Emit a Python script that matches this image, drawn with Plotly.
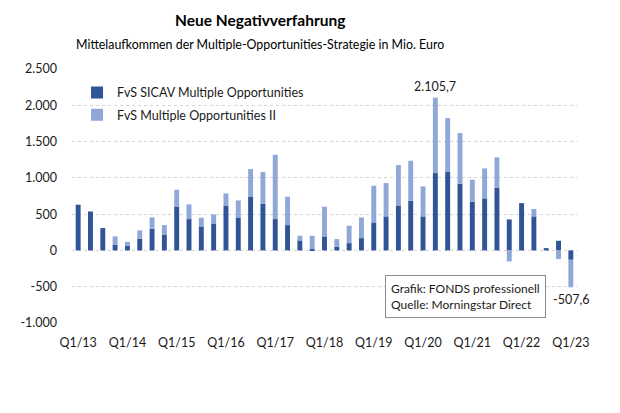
import plotly.graph_objects as go

quarters = [
    "Q1/13", "Q2/13", "Q3/13", "Q4/13",
    "Q1/14", "Q2/14", "Q3/14", "Q4/14",
    "Q1/15", "Q2/15", "Q3/15", "Q4/15",
    "Q1/16", "Q2/16", "Q3/16", "Q4/16",
    "Q1/17", "Q2/17", "Q3/17", "Q4/17",
    "Q1/18", "Q2/18", "Q3/18", "Q4/18",
    "Q1/19", "Q2/19", "Q3/19", "Q4/19",
    "Q1/20", "Q2/20", "Q3/20", "Q4/20",
    "Q1/21", "Q2/21", "Q3/21", "Q4/21",
    "Q1/22", "Q2/22", "Q3/22", "Q4/22",
    "Q1/23",
]

sicav = [630, 537, 308, 78, 64, 161, 299, 220, 606, 432, 331, 372, 620, 455, 744, 643,
         432, 349, 138, 18, 193, 51, 101, 170, 386, 469, 620, 684, 469, 1066, 1080, 919,
         671, 717, 864, 427, 652, 469, 32, 133, -129]

fund_ii = [0, 0, 0, 115, 55, 115, 156, 129, 230, 202, 119, 124, 166, 234, 377, 436,
           886, 391, 64, 184, 409, 105, 239, 285, 505, 459, 556, 552, 413, 1039.7, 744, 698,
           303, 413, 418, -152, 0, 101, 0, -119, -378.6]

x_tick_labels = ["Q1/13", "Q1/14", "Q1/15", "Q1/16", "Q1/17", "Q1/18",
                 "Q1/19", "Q1/20", "Q1/21", "Q1/22", "Q1/23"]

y_tick_vals = [-1000, -500, 0, 500, 1000, 1500, 2000, 2500]
y_tick_text = ["-1.000", "-500", "0", "500", "1.000", "1.500", "2.000", "2.500"]

series_names = ["FvS SICAV Multiple Opportunities", "FvS Multiple Opportunities II"]
max_label = "2.105,7"
min_label = "-507,6"

DARK = "#2F5597"
LIGHT = "#8FA8D8"
FONT = "Lato"
TXT = "#1a1a1a"

fig = go.Figure()
fig.add_trace(go.Bar(x=quarters, y=sicav, name=series_names[0], marker_color=DARK,
                     marker_line_width=0, legendgroup="a"))
fig.add_trace(go.Bar(x=quarters, y=fund_ii, name=series_names[1], marker_color=LIGHT,
                     marker_line_width=0, legendgroup="b"))

fig.update_layout(
    width=620, height=413,
    margin=dict(l=64, r=51, t=61, b=98),
    barmode="relative",
    bargap=0.6,
    paper_bgcolor="white",
    plot_bgcolor="white",
    font=dict(family=FONT, size=12, color=TXT),
    showlegend=True,
    legend=dict(x=0.01, y=0.965, xanchor="left", yanchor="top",
                bgcolor="rgba(0,0,0,0)", font=dict(size=12.5, color=TXT),
                traceorder="grouped", tracegroupgap=3, itemwidth=30),
    xaxis=dict(
        tickmode="array", tickvals=x_tick_labels, ticktext=x_tick_labels,
        showgrid=False, showline=False, zeroline=False, ticks="",
        tickfont=dict(size=12.5, color=TXT), ticklabelstandoff=10,
        automargin=False, range=[-0.5, 40.5],
    ),
    yaxis=dict(
        range=[-1000, 2500], tickmode="array", tickvals=y_tick_vals, ticktext=y_tick_text,
        showgrid=True, gridcolor="#d4d4d4", gridwidth=1, griddash="dot",
        zeroline=False, showline=False, ticks="",
        tickfont=dict(size=12.5, color=TXT), ticklabelstandoff=14,
        automargin=False,
    ),
    annotations=[
        dict(text="<b>Neue Negativverfahrung</b>", xref="paper", yref="paper",
             x=0.372, y=1.194, xanchor="center", yanchor="middle", showarrow=False,
             font=dict(size=15.5, color="black")),
        dict(text="Mittelaufkommen der Multiple-Opportunities-Strategie in Mio. Euro",
             xref="paper", yref="paper", x=0.372, y=1.096, xanchor="center",
             yanchor="middle", showarrow=False, font=dict(size=12.4, color="black")),
        dict(text=max_label, x=quarters[29], y=sicav[29] + fund_ii[29], xref="x", yref="y",
             yanchor="bottom", showarrow=False, yshift=2, font=dict(size=12.5)),
        dict(text=min_label, x=quarters[40], y=sicav[40] + fund_ii[40], xref="x", yref="y",
             yanchor="top", showarrow=False, yshift=-3, font=dict(size=12.5)),
        dict(text="Grafik: FONDS professionell<br>Quelle: Morningstar Direct",
             xref="paper", yref="paper", x=0.78, y=0.1035, xanchor="center",
             yanchor="middle", align="left", showarrow=False,
             bordercolor="#8c8c8c", borderwidth=1, borderpad=5, bgcolor="white",
             font=dict(size=12, color=TXT)),
    ],
)

fig.write_html("out.html")
